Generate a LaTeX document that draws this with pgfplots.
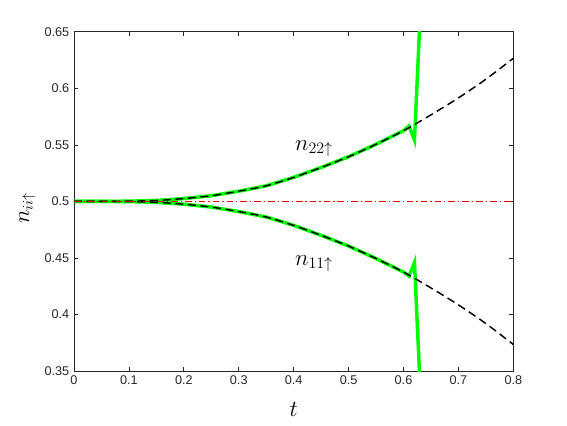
\documentclass[border=0pt]{standalone}
\usepackage{fontspec}
\setmainfont{Liberation Sans}
\usepackage{pgfplots}
\pgfplotsset{compat=1.18}
\usepackage{pgfplotstable}

\definecolor{axgray}{RGB}{38,38,38}
\definecolor{mgreen}{RGB}{0,255,0}
\definecolor{mred}{RGB}{235,0,0}

% reference (dashed) curves, upper and lower branch
\pgfplotstableread{
t     up      lo
0.00  0.5000  0.5000
0.05  0.5000  0.5000
0.10  0.5002  0.4998
0.15  0.5008  0.4992
0.20  0.5025  0.4975
0.25  0.5050  0.4950
0.30  0.5090  0.4910
0.35  0.5138  0.4862
0.40  0.5212  0.4788
0.45  0.5300  0.4700
0.50  0.5395  0.4605
0.55  0.5505  0.4495
0.60  0.5625  0.4375
0.65  0.5765  0.4235
0.70  0.5915  0.4085
0.75  0.6080  0.3920
0.80  0.6265  0.3735
}\dashdata

% numerical solution (green), breaks down near t = 0.62
\pgfplotstableread{
t      up      lo
0.000  0.5000  0.5000
0.050  0.5000  0.5000
0.100  0.5002  0.4998
0.150  0.5008  0.4992
0.200  0.5025  0.4975
0.250  0.5050  0.4950
0.300  0.5090  0.4910
0.350  0.5138  0.4862
0.400  0.5212  0.4788
0.450  0.5300  0.4700
0.500  0.5395  0.4605
0.550  0.5505  0.4495
0.600  0.5625  0.4375
0.610  0.5666  0.4340
0.620  0.5542  0.4460
0.629  0.6500  0.3500
0.640  0.7700  0.2300
}\greendata

% horizontal level n = 0.5
\pgfplotstableread{
t    n
0.0  0.5
0.8  0.5
}\halfdata

\begin{document}
\begin{tikzpicture}
\begin{axis}[
    at={(0,0)}, anchor=south west,
    scale only axis,
    width=329.5pt, height=254.5pt,
    xmin=0, xmax=0.8,
    ymin=0.35, ymax=0.65,
    xtick={0,0.1,0.2,0.3,0.4,0.5,0.6,0.7,0.8},
    ytick={0.35,0.4,0.45,0.5,0.55,0.6,0.65},
    tick align=inside,
    major tick length=3pt,
    axis line style={axgray, line width=0.5pt},
    tick style={axgray, line width=0.5pt},
    ticklabel style={font=\fontsize{9.5}{11}\selectfont, text=axgray},
    /pgf/number format/assume math mode=true,
    xlabel={$t$},
    ylabel={$n_{ii\uparrow}$},
    xlabel style={at={(axis description cs:0.5,0)}, anchor=center, yshift=-29pt, font=\fontsize{16}{19}\selectfont},
    ylabel style={at={(axis description cs:0,0.48)}, anchor=center, yshift=35pt, font=\fontsize{16}{19}\selectfont},
]
\node[anchor=base, font=\fontsize{17.5}{20}\selectfont] at (axis cs:0.437,0.5454) {$n_{22\uparrow}$};
\node[anchor=base, font=\fontsize{17.5}{20}\selectfont] at (axis cs:0.437,0.4437) {$n_{11\uparrow}$};
\addplot[draw=mgreen, line width=2.6pt] table[x=t, y=up] {\greendata};
\addplot[draw=mgreen, line width=2.6pt] table[x=t, y=lo] {\greendata};
\addplot[draw=black, line width=1.1pt, dash pattern=on 6pt off 3.5pt, smooth] table[x=t, y=up] {\dashdata};
\addplot[draw=black, line width=1.1pt, dash pattern=on 6pt off 3.5pt, smooth] table[x=t, y=lo] {\dashdata};
\addplot[color=mred, line width=0.9pt, dash pattern=on 5pt off 2.2pt on 1pt off 2.2pt] table[x=t, y=n] {\halfdata};
\end{axis}
\path (-55.5pt,-40.5pt) rectangle (369.75pt,278.3pt);
\end{tikzpicture}
\end{document}
